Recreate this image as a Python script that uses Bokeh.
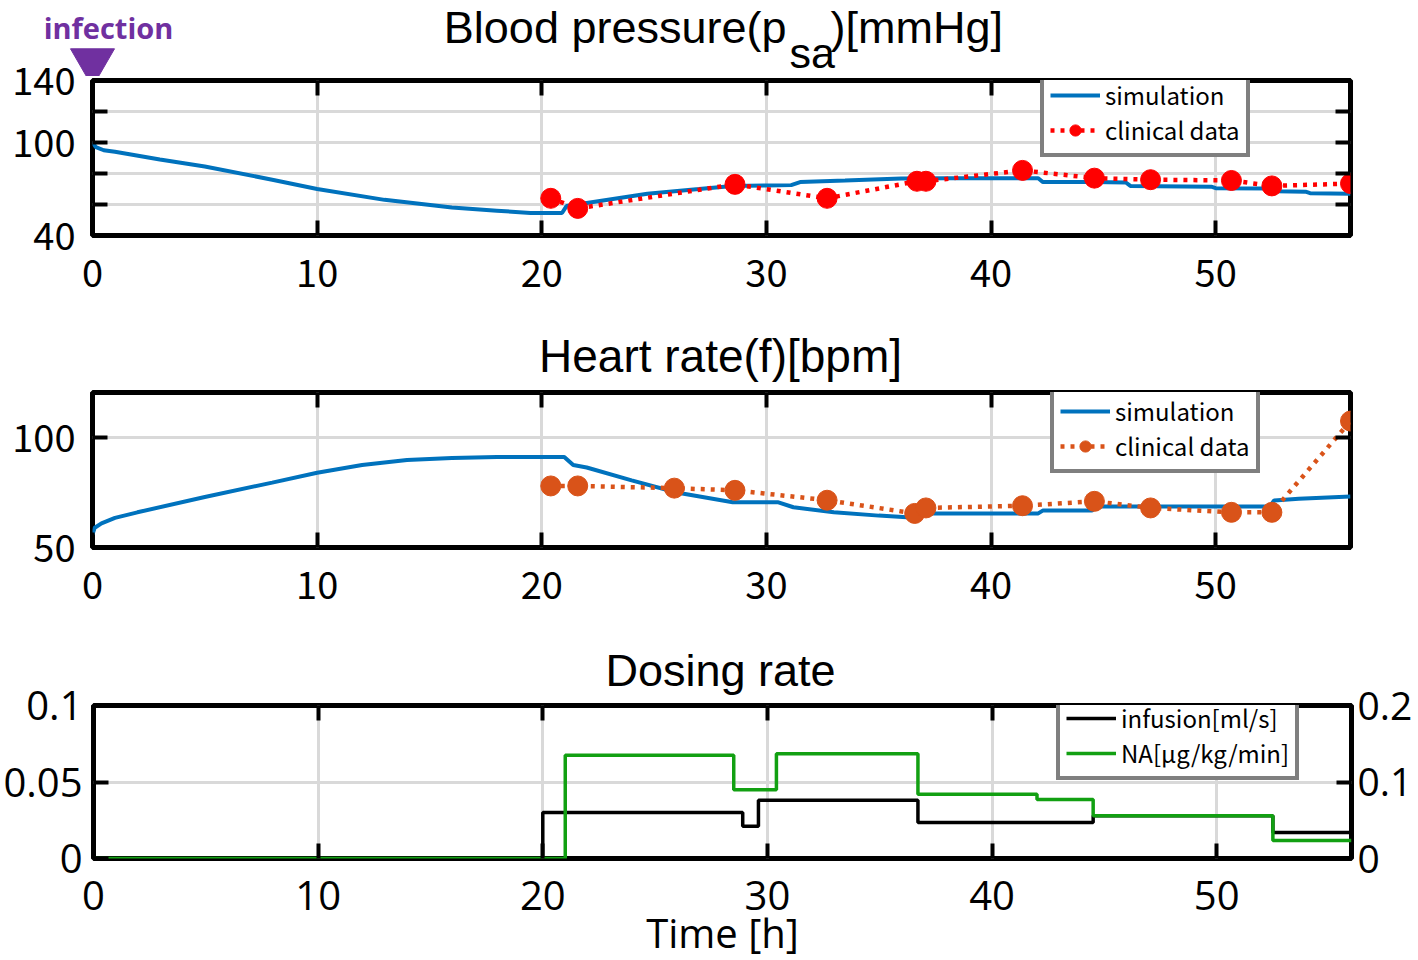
from bokeh.plotting import figure
from bokeh.models import LinearAxis, Range1d, FixedTicker, Legend, LegendItem, CustomLabelingPolicy
from bokeh.layouts import column, row
from bokeh.embed import file_html
from bokeh.resources import INLINE
from bokeh.core.properties import value

# ---------------- data ----------------
x_ticks = [0, 10, 20, 30, 40, 50]

bp_sim_t = [0, 0.15, 0.5, 1, 3, 5, 8, 10, 13, 16, 18, 19.5, 20.9, 21.1, 22, 24.7, 27, 28.5, 30, 31.1, 31.5,
            33.5, 36, 38, 42.1, 42.3, 44.5, 46.0, 46.2, 49.8, 50.0, 52.5, 52.7, 54.0, 54.2, 56]
bp_sim_v = [100, 97, 95, 94, 89, 84.5, 76, 70, 63, 58, 56, 54.5, 54.5, 59, 61, 67, 70, 72, 72.3, 72.5, 74.5,
            75.5, 76.8, 77, 77, 74.5, 74.5, 74.2, 72, 71.5, 70.5, 70.3, 68.5, 68.3, 67.3, 67]
bp_clin_t = [20.4, 21.6, 28.6, 32.7, 36.7, 37.1, 41.4, 44.6, 47.1, 50.7, 52.5, 56.0]
bp_clin_v = [64, 57.5, 73, 64, 75, 75, 82, 77, 76, 75.5, 72, 73.5]

hr_sim_t = [0, 0.1, 0.4, 1, 2, 5, 8, 10, 12, 14, 16, 18, 21, 21.4, 22, 24, 26, 28.5, 30.5, 31.2, 33, 35,
            36.6, 37.0, 42.1, 42.3, 44.5, 44.7, 52.4, 52.6, 53.7, 56]
hr_sim_v = [56, 59, 61, 63.5, 66, 73, 79.5, 84, 87.5, 89.8, 90.7, 91.2, 91.2, 87.5, 86.4, 80.5, 75, 70.6, 70.6,
            68.3, 66, 64.5, 63.5, 65.5, 65.5, 66.8, 66.8, 68.6, 68.6, 71.4, 72.2, 73.2]
hr_clin_t = [20.4, 21.6, 25.9, 28.6, 32.7, 36.6, 37.1, 41.4, 44.6, 47.1, 50.7, 52.5, 56.0]
hr_clin_v = [78, 78, 77, 76, 71.5, 65.5, 68, 69, 71, 68, 66, 66, 107.5]

inf_t = [0, 20.0, 28.9, 29.6, 36.7, 44.5, 52.5, 56]
inf_v = [0, 0.030, 0.021, 0.038, 0.0235, 0.028, 0.017, 0.017]
na_t = [0, 21.0, 28.5, 30.4, 36.7, 42.0, 44.5, 52.5, 56]
na_v = [0, 0.135, 0.090, 0.137, 0.084, 0.077, 0.056, 0.0235, 0.0235]

BLUE = "#0072BD"
RED = "#FF0000"
ORANGE = "#D95319"
GREEN = "#12A012"
PURPLE = "#7030A0"
JP = "Noto Sans CJK JP"
TITLE_FONT = "Liberation Sans"
SANS = "Open Sans"

LEFT, RIGHT = 92, 60
FW, FH = 1258, 155
XMAX = 56
K = FW / XMAX  # px per hour
TOPB = 30      # top border of the panels (room for the end tick labels)
OVER = 26      # how far a panel overlaps the header above it


def px(xp):
    """page x (px) -> hours, for placing header texts"""
    return (xp - LEFT) / K


def header(h):
    p = figure(frame_width=LEFT + FW + RIGHT, frame_height=h,
               x_range=Range1d(-LEFT / K, XMAX + RIGHT / K), y_range=Range1d(h, 0),
               x_axis_location=None, y_axis_location=None,
               output_backend="svg", toolbar_location=None,
               min_border_left=0, min_border_right=0, min_border_top=0, min_border_bottom=0)
    p.outline_line_color = None
    p.grid.visible = False
    p.background_fill_color = "white"
    p.border_fill_color = "white"
    return p


def htext(p, x, y, text, fs=45, font=TITLE_FONT, align="center", color="black", style="normal"):
    # y is the wanted baseline (px from header top); svg text baseline compensation
    p.text(x=[x], y=[y - 0.34 * fs], text=[text], text_align=align, text_baseline="alphabetic",
           text_font=value(font), text_font_size=f"{fs}px", text_color=color, text_font_style=style)


def make_fig(y0, y1, fh, bottom, top=4, extra=None):
    kw = {}
    if extra:
        kw["extra_y_ranges"] = extra
    p = figure(frame_width=FW, frame_height=fh, x_range=Range1d(0, XMAX), y_range=Range1d(y0, y1),
               output_backend="svg", toolbar_location=None, min_border_left=LEFT, min_border_right=RIGHT,
               min_border_top=top, min_border_bottom=bottom, **kw)
    p.outline_line_color = "black"
    p.outline_line_width = 5
    p.outline_line_alpha = 1
    p.background_fill_color = "white"
    p.border_fill_color = None
    p.xgrid.ticker = FixedTicker(ticks=[10, 20, 30, 40, 50])
    p.grid.grid_line_color = "#d9d9d9"
    p.grid.grid_line_width = 3
    return p


def style_axis(ax, font, fs, standoff, show=True):
    ax.axis_line_color = None
    ax.major_tick_in = 15
    ax.major_tick_out = 0
    ax.minor_tick_line_color = None
    ax.major_tick_line_width = 4
    ax.major_tick_line_color = "black"
    ax.major_label_text_font = font
    ax.major_label_text_color = "black"
    ax.major_label_standoff = standoff
    if show:
        ax.major_label_text_font_size = fs
    else:
        ax.major_label_text_font_size = "1px"
        ax.major_label_policy = CustomLabelingPolicy(code="return []")


def add_tick_axes(p, yticks, right=True):
    top = LinearAxis(ticker=FixedTicker(ticks=x_ticks))
    style_axis(top, JP, "0px", 0, show=False)
    p.add_layout(top, "above")
    if right:
        r = LinearAxis(ticker=FixedTicker(ticks=yticks))
        style_axis(r, JP, "0px", 0, show=False)
        p.add_layout(r, "right")


def legend_style(lg, font):
    lg.border_line_color = "black"
    lg.border_line_width = 4
    lg.background_fill_color = "white"
    lg.background_fill_alpha = 1
    lg.label_text_font = font
    lg.label_text_font_size = "24px"
    lg.label_text_color = "black"
    lg.glyph_width = 50
    lg.glyph_height = 28
    lg.label_height = 28
    lg.padding = 6
    lg.spacing = 0
    lg.margin = 0
    lg.label_standoff = 5


# ---------------- header 1 ----------------
h1 = header(76)
htext(h1, px(786), 42, "Blood pressure(p", align="right")
htext(h1, px(789), 67, "sa", fs=43, align="left")
htext(h1, px(830), 42, ")[mmHg]", align="left")
htext(h1, px(108), 37, "infection", fs=29, font=SANS, color=PURPLE, style="bold")
h1.scatter(x=[0], y=[61], marker="inverted_triangle", size=44, color=PURPLE, line_color=PURPLE)

# ---------------- panel 1: blood pressure ----------------
p1 = make_fig(40, 140, FH, 72, top=TOPB)
bp_ticks = [40, 60, 80, 100, 120, 140]
p1.xaxis.ticker = FixedTicker(ticks=x_ticks)
p1.yaxis.ticker = FixedTicker(ticks=bp_ticks)
p1.ygrid.ticker = FixedTicker(ticks=[60, 80, 100, 120])
p1.yaxis.major_label_overrides = {60: "", 80: "", 120: ""}
style_axis(p1.xaxis[0], JP, "38px", 23)
style_axis(p1.yaxis[0], JP, "38px", 17)
add_tick_axes(p1, bp_ticks)

s1 = p1.line(bp_sim_t, bp_sim_v, color=BLUE, line_width=4)
c1l = p1.line(bp_clin_t, bp_clin_v, color=RED, line_width=4.5, line_dash="4 6")
c1p = p1.scatter(bp_clin_t, bp_clin_v, size=20, color=RED)
lg1 = Legend(items=[LegendItem(label="simulation", renderers=[s1]),
                    LegendItem(label="clinical data", renderers=[c1l, c1p])], location=(948, 78))
legend_style(lg1, JP)
p1.add_layout(lg1)

# ---------------- header 2 ----------------
h2 = header(81)
htext(h2, px(720), 64, "Heart rate(f)[bpm]", fs=46)

# ---------------- panel 2: heart rate ----------------
p2 = make_fig(50, 120.5, FH, 72)
p2.xaxis.ticker = FixedTicker(ticks=x_ticks)
p2.yaxis.ticker = FixedTicker(ticks=[50, 100])
p2.ygrid.ticker = FixedTicker(ticks=[100])
style_axis(p2.xaxis[0], JP, "38px", 23)
style_axis(p2.yaxis[0], JP, "38px", 17)
add_tick_axes(p2, [50, 100])

s2 = p2.line(hr_sim_t, hr_sim_v, color=BLUE, line_width=4)
c2l = p2.line(hr_clin_t, hr_clin_v, color=ORANGE, line_width=4.5, line_dash="4 6")
c2p = p2.scatter(hr_clin_t, hr_clin_v, size=20, color=ORANGE)
lg2 = Legend(items=[LegendItem(label="simulation", renderers=[s2]),
                    LegendItem(label="clinical data", renderers=[c2l, c2p])], location=(958, 74))
legend_style(lg2, JP)
p2.add_layout(lg2)

# ---------------- header 3 ----------------
h3 = header(82)
htext(h3, px(720), 66, "Dosing rate")

# ---------------- panel 3: dosing rate ----------------
p3 = make_fig(0, 0.1, 153, 96, top=TOPB, extra={"right": Range1d(0, 0.2)})
p3.xaxis.ticker = FixedTicker(ticks=x_ticks)
p3.yaxis.ticker = FixedTicker(ticks=[0, 0.05, 0.1])
p3.yaxis.major_label_overrides = {0: "0", 0.05: "0.05", 0.1: "0.1"}
p3.ygrid.ticker = FixedTicker(ticks=[0.05])
style_axis(p3.xaxis[0], SANS, "40px", 22)
style_axis(p3.yaxis[0], SANS, "40px", 11)
p3.xaxis.axis_label = "Time [h]"
p3.xaxis.axis_label_text_font = SANS
p3.xaxis.axis_label_text_font_size = "40px"
p3.xaxis.axis_label_text_font_style = "normal"
p3.xaxis.axis_label_text_color = "black"
p3.xaxis.axis_label_standoff = -8
top3 = LinearAxis(ticker=FixedTicker(ticks=x_ticks))
style_axis(top3, SANS, "0px", 0, show=False)
p3.add_layout(top3, "above")
right3 = LinearAxis(y_range_name="right", ticker=FixedTicker(ticks=[0, 0.1, 0.2]))
right3.major_label_overrides = {0: "0", 0.1: "0.1", 0.2: "0.2"}
style_axis(right3, SANS, "39px", 6)
p3.add_layout(right3, "right")

r_inf = p3.step(inf_t, inf_v, mode="after", color="black", line_width=3.5)
r_na = p3.step(na_t, na_v, mode="after", color=GREEN, line_width=3.5, y_range_name="right")
lg3 = Legend(items=[LegendItem(label="infusion[ml/s]", renderers=[r_inf]),
                    LegendItem(label="NA[μg/kg/min]", renderers=[r_na])], location=(963, 78))
legend_style(lg3, JP)
p3.add_layout(lg3)

layout = column(row(h1), row(p1, margin=(-OVER, 0, 0, 0)), row(h2), row(p2),
                row(h3), row(p3, margin=(-OVER, 0, 0, 0)), spacing=0)
open("out.html", "w").write(file_html(layout, INLINE))
